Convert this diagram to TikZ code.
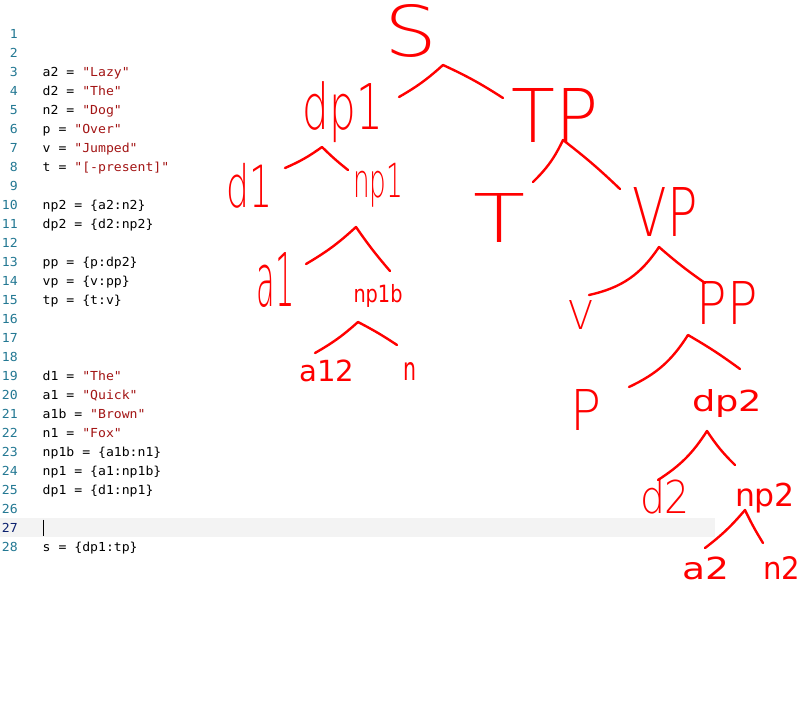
\documentclass[tikz,border=0pt]{standalone}
\usepackage{fontspec}
\usepackage{graphicx}
\newfontfamily\codefont[FakeStretch=1.06,Ligatures=TeXOff]{DejaVu Sans Mono}
\newfontfamily\handfont{DejaVu Sans ExtraLight}
\newfontfamily\handbook{DejaVu Sans}
\definecolor{lnum}{HTML}{237893}
\definecolor{lnumact}{HTML}{0B216F}
\definecolor{strc}{HTML}{A31515}
\definecolor{bandc}{HTML}{F3F3F3}
\definecolor{inkred}{HTML}{FF0000}
\newcommand\hw[3]{\resizebox*{#1pt}{#2pt}{\handfont #3}}
\newcommand\hb[3]{\resizebox*{#1pt}{#2pt}{\handbook #3}}
\newcommand\qs[1]{\textcolor{strc}{"#1"}}
\tikzset{
  num/.style={anchor=base east,inner sep=0pt,text=lnum,font=\codefont\fontsize{12.4}{14}\selectfont},
  code/.style={anchor=base west,inner sep=0pt,text=black,font=\codefont\fontsize{12.4}{14}\selectfont},
  lab/.style={inner sep=0pt,text=inkred},
  branch/.style={draw=inkred,line width=2.4pt,line cap=round,line join=round},
}
\begin{document}
\begin{tikzpicture}[x=1pt,y=-1pt]
\useasboundingbox (0,0) rectangle (801,726);
\fill[white] (0,0) rectangle (801,726);
% current line highlight and cursor
\fill[bandc] (0,518) rectangle (715,537);
\draw[line width=1.8pt,black] (43.5,519.5) -- (43.5,536);
% line numbers
\foreach \n in {1,...,26,28} \node[num] (ln\n) at (18,{38.3+(\n-1)*19.02}) {\n};
\node[num,text=lnumact] (ln27) at (18,{38.3+26*19.02}) {27};
% code
\node[code] (c3) at (42.5,76.34) {a2 = \qs{Lazy}};
\node[code] (c4) at (42.5,95.36) {d2 = \qs{The}};
\node[code] (c5) at (42.5,114.38) {n2 = \qs{Dog}};
\node[code] (c6) at (42.5,133.40) {p = \qs{Over}};
\node[code] (c7) at (42.5,152.42) {v = \qs{Jumped}};
\node[code] (c8) at (42.5,171.44) {t = \qs{[-present]}};
\node[code] (c10) at (42.5,209.48) {np2 = \{a2:n2\}};
\node[code] (c11) at (42.5,228.50) {dp2 = \{d2:np2\}};
\node[code] (c13) at (42.5,266.54) {pp = \{p:dp2\}};
\node[code] (c14) at (42.5,285.56) {vp = \{v:pp\}};
\node[code] (c15) at (42.5,304.58) {tp = \{t:v\}};
\node[code] (c19) at (42.5,380.66) {d1 = \qs{The}};
\node[code] (c20) at (42.5,399.68) {a1 = \qs{Quick}};
\node[code] (c21) at (42.5,418.70) {a1b = \qs{Brown}};
\node[code] (c22) at (42.5,437.72) {n1 = \qs{Fox}};
\node[code] (c23) at (42.5,456.74) {np1b = \{a1b:n1\}};
\node[code] (c24) at (42.5,475.76) {np1 = \{a1:np1b\}};
\node[code] (c25) at (42.5,494.78) {dp1 = \{d1:np1\}};
\node[code] (c28) at (42.5,551.84) {s = \{dp1:tp\}};
% hand-drawn tree labels
\node[lab] (s) at (411,31) {\hw{53}{53}{S}};
\node[lab] (dp1) at (343,112) {\hw{80}{61}{dp1}};
\node[lab] (tp) at (555,115) {\hw{87}{54}{TP}};
\node[lab] (d1) at (250,186) {\hw{46}{45}{d1}};
\node[lab] (np1) at (378,185) {\hw{50}{44}{np1}};
\node[lab] (t) at (500,218) {\hw{52}{49}{T}};
\node[lab] (vp) at (665,212) {\hw{65}{49}{VP}};
\node[lab] (a1) at (276,280) {\hw{38}{55}{a1}};
\node[lab] (np1b) at (378,296) {\hb{49}{23}{np1b}};
\node[lab] (v) at (581,315) {\hw{25}{29}{V}};
\node[lab] (pp) at (727,303) {\hw{61}{43}{PP}};
\node[lab] (a12) at (327,371) {\hb{55}{22}{a12}};
\node[lab] (n) at (410,371) {\hb{13}{18}{n}};
\node[lab] (p) at (586,410) {\hw{31}{41}{P}};
\node[lab] (dp2) at (727,404) {\hb{70}{28}{dp2}};
\node[lab] (d2) at (665,497) {\hw{50}{35}{d2}};
\node[lab] (np2) at (765,498) {\hb{60}{30}{np2}};
\node[lab] (a2) at (706,568) {\hb{47}{23}{a2}};
\node[lab] (n2) at (782,568) {\hb{37}{23}{n2}};
% branch points
\coordinate (sL) at (399,97);   \coordinate (sP) at (443,65);   \coordinate (sR) at (503,98);
\coordinate (dp1L) at (285,168); \coordinate (dp1P) at (322,147); \coordinate (dp1R) at (348,170);
\coordinate (tpL) at (533,182); \coordinate (tpP) at (563,140); \coordinate (tpR) at (620,189);
\coordinate (np1L) at (306,264); \coordinate (np1P) at (356,227); \coordinate (np1R) at (390,271);
\coordinate (vpL) at (589,295); \coordinate (vpP) at (659,247); \coordinate (vpR) at (705,283);
\coordinate (np1bL) at (315,353); \coordinate (np1bP) at (358,322); \coordinate (np1bR) at (397,345);
\coordinate (ppL) at (629,387); \coordinate (ppP) at (688,335); \coordinate (ppR) at (740,369);
\coordinate (dp2L) at (658,480); \coordinate (dp2P) at (707,431); \coordinate (dp2R) at (735,465);
\coordinate (np2L) at (705,548); \coordinate (np2P) at (745,510); \coordinate (np2R) at (763,543);
% branches (y axis is flipped, so bend right bulges upward here)
\draw[branch] (sL) to[bend right=6] (sP) to[bend left=4] (sR);
\draw[branch] (dp1L) to[bend right=6] (dp1P) to[bend right=3] (dp1R);
\draw[branch] (tpL) to[bend right=10] (tpP) to[bend left=3] (tpR);
\draw[branch] (np1L) to[bend right=6] (np1P) to[bend right=3] (np1R);
\draw[branch] (vpL) to[bend right=22] (vpP) to[bend right=3] (vpR);
\draw[branch] (np1bL) to[bend right=6] (np1bP) to[bend left=3] (np1bR);
\draw[branch] (ppL) to[bend right=16] (ppP) to[bend left=3] (ppR);
\draw[branch] (dp2L) to[bend right=12] (dp2P) to[bend right=6] (dp2R);
\draw[branch] (np2L) to[bend right=6] (np2P) to[bend right=3] (np2R);
\end{tikzpicture}
\end{document}
